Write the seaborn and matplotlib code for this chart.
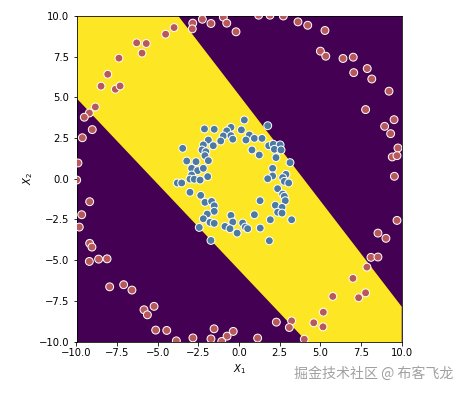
import matplotlib
matplotlib.use("Agg")
import matplotlib.pyplot as plt
import seaborn as sns
import pandas as pd
import numpy as np

# decision region boundaries: y values at x = -10 and x = 10
boundary_x = [-10.0, 10.0]
upper_y = [18.14, -7.86]
lower_y = [4.95, -16.17]

outer_x = [-2.85, -2.88, -2.26, -1.73, -0.97, -0.76, -0.19, -4.0, -4.52, -6.30, -5.71, -5.97, -7.39, -8.08,
           -8.49, -7.61, -7.32, -8.84, -9.21, -9.52, -9.03, -9.64, -9.91,
           1.2, 1.9, 2.72, 3.62, 4.22, 5.28, 5.0, 5.33, 6.39, 7.02, 7.05, 7.88, 8.16, 9.22, 7.78, 9.53, 8.95,
           9.32, 9.77, 9.42, 9.71, 9.55,
           -9.99, -9.19, -9.68, -9.83, -9.19, -9.05, -9.21, -8.64, -8.12, -7.96, -7.10, -6.59, -5.85, -5.64,
           -5.23, -5.13, -4.45, -3.86, -2.84, -1.73, -1.54, -0.74, -0.36, -1.07,
           9.71, 8.54, 9.03, 8.11, 8.54, 7.86, 7.00, 7.78, 7.35, 5.76, 5.18, 5.16, 4.59, 3.23, 3.09, 2.29,
           4.01, 1.14]
outer_y = [9.56, 9.21, 9.80, 9.54, 9.93, 9.56, 9.03, 9.29, 8.88, 8.35, 8.31, 7.72, 7.41, 6.42,
           5.69, 5.50, 5.70, 4.41, 4.04, 3.78, 3.02, 2.52, 0.97,
           10.05, 10.05, 10.0, 9.64, 9.43, 9.11, 7.84, 7.53, 7.39, 7.47, 6.52, 6.77, 6.13, 5.38, 4.25, 3.63, 3.22,
           2.77, 1.89, 1.34, 1.42, 0.15,
           -0.08, -1.41, -2.21, -2.97, -3.97, -4.20, -5.08, -4.94, -4.92, -6.64, -6.51, -6.84, -8.05, -8.36,
           -7.84, -9.30, -9.32, -9.96, -9.78, -9.84, -9.22, -9.67, -9.38, -10.0,
           -2.56, -3.34, -3.66, -4.83, -4.81, -5.43, -6.12, -7.01, -7.31, -7.23, -8.20, -9.10, -8.85, -8.73, -9.14, -8.81,
           -9.86, -9.79]

inner_x = [-2.13, -1.53, -0.50, -0.76, -0.97, -0.50, -0.39, -1.13, -1.89, -2.20, -1.59, -3.47, -2.28, -2.04,
           -2.10, -3.22, -2.65, -1.89, -2.92, -2.55, -2.20, -1.93, -2.92, -3.02, -2.76, -2.40,
           0.32, 1.76, 0.14, 0.63, 0.94, 0.42, 1.41, 1.82, 2.10, 2.52, 2.17, 2.58, 0.79, 1.24, 2.27, 3.13,
           2.06, 2.88, 2.06, 2.68, 1.76,
           -3.80, -3.53, -3.02, -2.36, -2.10, -1.69, -1.53, -1.53, -1.96, -2.20, -1.79, -1.53, -2.45, -1.73,
           -0.50, -0.39, -0.87, -0.56, -0.12,
           2.78, 3.05, 2.37, 2.68, 2.78, 2.84, 1.29, 2.23, 2.64, 2.37, 2.64, 0.94, 1.92, 3.23, 0.22, 0.38,
           0.53, 1.30, 1.86]
inner_y = [3.06, 3.04, 3.16, 2.94, 2.63, 2.65, 2.43, 2.32, 2.38, 2.08, 2.03, 1.87, 1.77, 1.66,
           1.42, 1.09, 1.05, 1.11, 0.64, 0.50, 0.64, 0.13, 0.23, -0.02, -0.03, -0.08,
           3.61, 3.26, 3.0, 2.69, 2.48, 2.38, 2.48, 2.03, 2.12, 2.08, 1.81, 1.77, 1.77, 1.46, 1.30, 0.99,
           0.64, 0.27, 0.17, 0.07, 0.0,
           -0.26, -0.26, -0.83, -1.02, -1.45, -1.39, -1.66, -2.0, -2.17, -2.46, -2.68, -2.74, -2.99, -3.79,
           -2.25, -2.66, -2.93, -3.07, -3.34,
           -0.16, -0.26, -0.61, -0.94, -1.08, -1.35, -1.35, -1.63, -1.76, -2.06, -2.11, -2.21, -2.52, -2.52, -2.72, -2.97,
           -3.07, -3.03, -3.81]

df = pd.DataFrame({
    "x1": outer_x + inner_x,
    "x2": outer_y + inner_y,
    "cls": ["outer"] * len(outer_x) + ["inner"] * len(inner_x),
})

fig = plt.figure(figsize=(461 / 72, 394 / 72), dpi=72)
ax = fig.add_axes([76.5 / 461, (394 - 341.5) / 394, 325.2 / 461, 325.5 / 394])
ax.set_facecolor("#440154")
ax.fill_between(boundary_x, lower_y, upper_y, color="#fde725", linewidth=0, zorder=0)

sns.scatterplot(data=df, x="x1", y="x2", hue="cls",
                palette={"outer": "#b8585b", "inner": "#4d7aa2"},
                s=62, edgecolor="white", linewidth=1, legend=False, ax=ax, zorder=3)

ax.set_xlim(-10, 10)
ax.set_ylim(-10, 10)
ticks = [-10, -7.5, -5, -2.5, 0, 2.5, 5, 7.5, 10]
ax.set_xticks(ticks)
ax.set_yticks(ticks)
ax.set_xlabel("$X_1$", fontsize=10)
ax.set_ylabel("$X_2$", fontsize=10)

fig.text(0.983, 0.052, "掘金技术社区 @ 布客飞龙", ha="right", va="center",
         color="#a0a0a0", fontsize=14, family=["Noto Sans CJK SC", "DejaVu Sans"])

fig.savefig("out.png", dpi=72)
